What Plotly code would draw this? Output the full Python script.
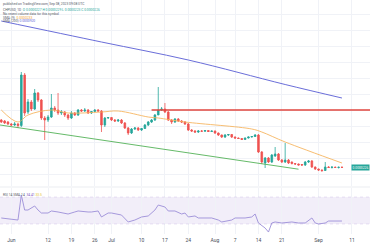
import pandas as pd
import plotly.graph_objects as go

# ---------------- data ----------------
start_date = "2023-05-29"
opens  = [7.0, 6.9, 6.8, 6.6, 6.5, 6.6, 6.45, 11.5, 7.8, 8.8, 8.1, 9.7, 9.0, 7.2, 7.0, 7.3,
          8.2, 8.0, 7.7, 7.8, 7.5, 7.2, 7.7, 7.5, 8.0, 7.9, 8.0, 7.7, 7.85, 8.0, 7.9, 6.5,
          7.2, 7.25, 7.0, 6.9, 7.0, 6.7, 6.2, 5.7, 6.1, 6.2, 6.0, 6.15, 6.5, 6.8, 7.0, 7.5,
          8.0, 8.1, 7.8, 7.0, 6.8, 7.1, 6.9, 6.8, 6.6, 6.0, 5.9, 5.8, 5.9, 5.88, 5.95, 5.85,
          5.9, 5.7, 5.5, 5.3, 5.5, 5.55, 5.3, 5.2, 5.15, 5.05, 5.2, 5.3, 5.35, 5.5, 3.8, 2.7,
          3.2, 2.8, 3.4, 3.6, 3.0, 2.8, 3.0, 2.8, 2.65, 2.6, 2.55, 2.5, 2.8, 2.9, 2.3, 2.1,
          2.0, 1.95, 2.3, 2.25, 2.28, 2.25, 2.27]
closes = [6.8, 6.7, 6.6, 6.5, 6.6, 6.45, 11.5, 7.7, 8.8, 8.1, 9.7, 9.0, 7.2, 7.0, 7.3, 8.2,
          8.0, 7.7, 7.8, 7.5, 7.2, 7.7, 7.5, 8.0, 7.9, 8.0, 7.7, 7.85, 8.0, 7.9, 6.5, 7.2,
          7.25, 7.0, 6.9, 7.0, 6.7, 6.2, 5.7, 6.1, 6.2, 6.0, 6.15, 6.5, 6.8, 7.0, 7.5, 8.0,
          8.1, 7.8, 7.0, 6.8, 7.1, 6.9, 6.8, 6.6, 6.0, 5.9, 5.8, 5.9, 5.88, 5.95, 5.85, 5.9,
          5.7, 5.5, 5.3, 5.5, 5.55, 5.3, 5.2, 5.15, 5.05, 5.2, 5.3, 5.35, 5.5, 3.8, 2.8, 3.2,
          2.8, 3.5, 3.6, 3.0, 2.8, 3.0, 2.7, 2.65, 2.6, 2.5, 2.5, 2.8, 2.9, 2.3, 2.1, 2.0,
          1.95, 2.3, 2.25, 2.28, 2.25, 2.27, 2.26]
highs  = [7.1, 7.0, 6.9, 6.7, 6.8, 6.7, 11.8, 11.7, 9.1, 9.0, 10.1, 9.8, 9.1, 7.4, 7.5, 9.6,
          8.4, 9.7, 8.0, 7.9, 7.6, 7.9, 7.8, 8.1, 8.1, 8.2, 8.1, 7.9, 8.1, 8.1, 8.0, 7.3,
          7.3, 7.3, 7.1, 7.1, 7.1, 6.8, 6.3, 6.2, 6.3, 6.3, 6.2, 6.6, 6.9, 7.1, 7.6, 10.3,
          8.3, 8.7, 7.9, 7.1, 7.2, 7.2, 7.0, 6.9, 6.7, 6.1, 6.0, 6.0, 6.0, 6.0, 6.0, 5.95,
          5.95, 5.75, 5.55, 5.6, 5.6, 5.6, 5.35, 5.25, 5.2, 5.25, 5.35, 5.4, 5.6, 5.6, 3.9, 3.3,
          3.3, 3.6, 4.3, 3.7, 3.1, 4.7, 3.1, 2.85, 2.7, 2.65, 2.6, 2.9, 3.0, 3.0, 2.35, 2.15,
          2.05, 2.8, 2.4, 2.4, 2.35, 2.35, 2.35]
lows   = [6.7, 6.6, 6.5, 6.4, 6.4, 6.2, 6.3, 7.4, 7.6, 7.9, 8.0, 8.8, 7.0, 5.0, 6.8, 7.2,
          7.8, 7.5, 7.5, 7.3, 7.0, 7.1, 7.4, 7.4, 7.8, 7.8, 7.6, 7.6, 7.8, 7.8, 5.8, 6.3,
          7.1, 6.9, 6.8, 6.8, 6.6, 6.1, 5.5, 5.6, 6.0, 5.9, 5.9, 6.1, 6.4, 6.7, 6.9, 7.6,
          7.9, 7.7, 6.9, 6.6, 6.7, 6.8, 6.7, 6.5, 5.9, 5.8, 5.7, 5.7, 5.8, 5.8, 5.8, 5.8,
          5.6, 5.4, 5.2, 5.2, 5.4, 5.2, 5.1, 5.1, 5.0, 5.0, 5.15, 5.25, 5.3, 3.7, 2.6, 2.2,
          2.7, 2.7, 3.3, 2.9, 2.7, 2.7, 2.6, 2.55, 2.5, 2.45, 2.4, 2.4, 2.7, 2.2, 2.0, 1.9,
          1.8, 1.9, 2.2, 2.15, 2.2, 2.15, 2.2]

# moving averages (date, value)
sma_fast_dates = ["2023-05-29", "2023-06-03", "2023-06-06", "2023-06-13", "2023-06-18",
                  "2023-06-28", "2023-07-03", "2023-07-12", "2023-07-15", "2023-07-23",
                  "2023-08-12", "2023-08-15", "2023-08-22", "2023-09-08"]
sma_fast_vals  = [8.0, 6.8, 7.5, 8.0, 7.7, 7.8, 7.9, 7.3, 7.2, 6.8, 6.1, 5.8, 4.8, 2.7]
sma_slow_dates = ["2023-05-29", "2023-06-28", "2023-07-24", "2023-08-22", "2023-09-08"]
sma_slow_vals  = [16.9, 14.8, 13.0, 10.55, 9.2]

# drawn levels
resistance_start = "2023-07-13"
resistance_end = "2023-09-20"
resistance_level = 8.0
support_dates = ["2023-05-28", "2023-08-26"]
support_vals = [6.53, 2.08]

# RSI (date, value)
rsi_dates = ["2023-05-29", "2023-06-03", "2023-06-04", "2023-06-05", "2023-06-06", "2023-06-07",
             "2023-06-08", "2023-06-09", "2023-06-10", "2023-06-12", "2023-06-13", "2023-06-15",
             "2023-06-18", "2023-06-20", "2023-06-21", "2023-06-24", "2023-06-25", "2023-06-27",
             "2023-06-28", "2023-06-30", "2023-07-01", "2023-07-04", "2023-07-06", "2023-07-08",
             "2023-07-10", "2023-07-12", "2023-07-13", "2023-07-14", "2023-07-15", "2023-07-17",
             "2023-07-18", "2023-07-20", "2023-07-22", "2023-07-23", "2023-07-24", "2023-07-26",
             "2023-07-27", "2023-07-31", "2023-08-02", "2023-08-03", "2023-08-06", "2023-08-07",
             "2023-08-10", "2023-08-12", "2023-08-13", "2023-08-14", "2023-08-16", "2023-08-17",
             "2023-08-18", "2023-08-19", "2023-08-21", "2023-08-24", "2023-08-26", "2023-08-28",
             "2023-08-30", "2023-08-31", "2023-09-01", "2023-09-03", "2023-09-04", "2023-09-08"]
rsi_vals = [38.9, 35.9, 73.0, 50.7, 50.7, 53.7, 56.7, 50.7, 46.3, 46.3, 49.3, 47.8,
            44.8, 47.8, 49.3, 47.8, 47.8, 49.3, 40.4, 46.3, 46.3, 43.3, 33.0, 35.9,
            40.4, 41.9, 46.3, 50.7, 58.1, 55.2, 49.3, 49.3, 44.8, 46.3, 40.4, 41.9,
            38.9, 38.9, 35.9, 33.0, 35.9, 38.9, 38.9, 40.4, 44.8, 31.5, 24.0, 18.1,
            31.5, 33.0, 31.5, 33.0, 31.5, 31.5, 38.9, 31.5, 30.0, 31.5, 34.4, 34.4]
rsi_upper, rsi_lower = 70, 30

tick_dates = ["2023-06-01", "2023-06-12", "2023-06-19", "2023-06-26", "2023-07-01", "2023-07-10",
              "2023-07-17", "2023-07-24", "2023-08-01", "2023-08-07", "2023-08-14", "2023-08-21",
              "2023-09-01", "2023-09-11"]
tick_labels = ["Jun", "12", "19", "26", "Jul", "10", "17", "24", "Aug", "7", "14", "21", "Sep", "11"]

dates = pd.date_range(start_date, periods=len(opens), freq="D")

# ---------------- figure ----------------
W, H = 370, 250
UP, DOWN = "#26a69a", "#ef5350"
FONT = "Roboto"

fig = go.Figure()

fig.add_trace(go.Scatter(x=support_dates, y=support_vals, mode="lines",
                         line=dict(color="#4caf50", width=1), xaxis="x", yaxis="y",
                         hoverinfo="skip", opacity=0.85))
fig.add_trace(go.Scatter(x=sma_slow_dates, y=sma_slow_vals, mode="lines",
                         line=dict(color="#5b5fd6", width=1, shape="spline"), xaxis="x", yaxis="y",
                         opacity=0.9))
fig.add_trace(go.Scatter(x=sma_fast_dates, y=sma_fast_vals, mode="lines",
                         line=dict(color="#f7b35a", width=1, shape="spline"), xaxis="x", yaxis="y",
                         opacity=0.85))
fig.add_trace(go.Scatter(x=[resistance_start, resistance_end], y=[resistance_level] * 2, mode="lines",
                         line=dict(color="#e0463f", width=1.6), xaxis="x", yaxis="y"))
fig.add_trace(go.Candlestick(x=dates, open=opens, high=highs, low=lows, close=closes,
                             increasing=dict(line=dict(color=UP, width=0.8), fillcolor=UP),
                             decreasing=dict(line=dict(color=DOWN, width=0.8), fillcolor=DOWN),
                             whiskerwidth=0, xaxis="x", yaxis="y"))

# RSI pane
fig.add_trace(go.Scatter(x=rsi_dates, y=rsi_vals, mode="lines",
                         line=dict(color="#9c8fd8", width=0.9), xaxis="x2", yaxis="y2"))

x_range = ["2023-05-28 14:48", "2023-09-16 09:36"]
grid_c = "#f0f2f7"

fig.update_layout(
    width=W, height=H, margin=dict(l=0, r=0, t=0, b=0),
    paper_bgcolor="white", plot_bgcolor="white", showlegend=False,
    xaxis=dict(domain=[0, 1], anchor="y", range=x_range, type="date",
               tickvals=tick_dates, showticklabels=False, showgrid=True, gridcolor=grid_c,
               gridwidth=0.8, zeroline=False, rangeslider=dict(visible=False), showline=False),
    yaxis=dict(domain=[1 - 186 / H, 1], range=[0.4, 19.0], showticklabels=False,
               showgrid=True, gridcolor=grid_c, gridwidth=0.8, dtick=1.6, zeroline=False),
    xaxis2=dict(domain=[0, 1], anchor="y2", range=x_range, type="date", matches="x",
                tickvals=tick_dates, ticktext=tick_labels, showgrid=True, gridcolor=grid_c,
                gridwidth=0.8, ticks="", ticklabelstandoff=2,
                tickfont=dict(family=FONT, size=5, color="#4a4e5a"), zeroline=False),
    yaxis2=dict(domain=[1 - 234 / H, 1 - 188 / H], range=[15.19, 83.33], showticklabels=False,
                showgrid=False, zeroline=False),
)

fig.add_shape(type="rect", xref="x2 domain", yref="y2", x0=0, x1=1, y0=rsi_lower, y1=rsi_upper,
              fillcolor="rgba(126,87,194,0.10)", line=dict(width=0), layer="below")
fig.add_shape(type="line", xref="x2 domain", yref="y2", x0=0, x1=1, y0=rsi_upper, y1=rsi_upper,
              line=dict(color="rgba(126,87,194,0.25)", width=0.6, dash="dot"))
fig.add_shape(type="line", xref="x2 domain", yref="y2", x0=0, x1=1, y0=rsi_lower, y1=rsi_lower,
              line=dict(color="rgba(126,87,194,0.25)", width=0.6, dash="dot"))
fig.add_shape(type="line", xref="paper", yref="paper", x0=0, x1=1, y0=1 - 187 / H, y1=1 - 187 / H,
              line=dict(color="#e6e8ee", width=0.8))

def txt(x, y, s, size=3.3):
    fig.add_annotation(x=x / W, y=1 - y / H, xref="paper", yref="paper", text=s,
                       showarrow=False, xanchor="left", yanchor="middle",
                       font=dict(family=FONT, size=size, color="#555a66"))

g = "<span style='color:#26a69a'>%s</span>"
txt(1, 3.5, "published on TradingView.com, Sep 08, 2023 09:08 UTC")
txt(1, 10, "CHPUSD, 1D &nbsp;" + g % "O 0.0000227 H 0.0000229 L 0.0000223 C 0.0000226")
txt(1, 14, "No recent volume data for this symbol")
txt(1, 17.5, "SMA (9) &nbsp;<span style='color:#f0a030'>0.0000233</span>")
txt(1, 21, "SMA (200) <span style='color:#5b5fd6'>0.0000920</span>")
txt(1, 195, "RSI 14 SMA 14 &nbsp;<span style='color:#7e57c2'>34.41</span> <span style='color:#e6c229'>33.5</span>")

# last price label
fig.add_annotation(x=1, y=closes[-1], xref="paper", yref="y", text="0.0000226",
                   showarrow=False, xanchor="right", yanchor="middle", bgcolor=UP,
                   borderpad=0.6, font=dict(family=FONT, size=3.3, color="white"))

fig.write_html("out.html")
